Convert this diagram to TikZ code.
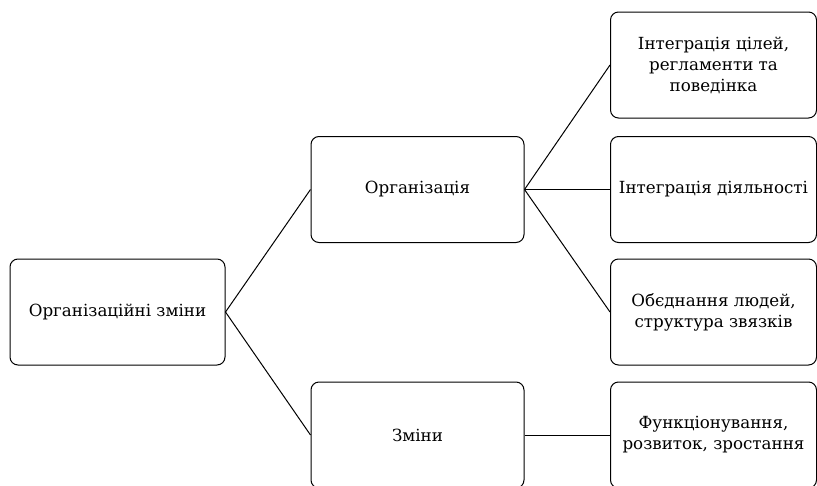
\documentclass[tikz,border=0pt]{standalone}
\usepackage{fontspec}
\setmainfont{DejaVu Serif}
\begin{document}
\begin{tikzpicture}[x=1pt,y=-1pt,
    box/.style={draw, rounded corners=8pt, line width=1pt,
      minimum width=213pt, minimum height=106pt, inner sep=0pt,
      align=center, font=\fontsize{16.7}{21}\selectfont}]
      \useasboundingbox (0,0) rectangle (817,485);
      \draw
        (117.5,312) node[box,minimum width=215pt] (root){Організаційні зміни}
        (417.5,189.5) node[box] (org){Організація}
        (417.5,435) node[box] (chg){Зміни}
        (713.5,65) node[box,minimum width=206pt] (goals){Інтеграція цілей,\\регламенти та\\поведінка}
        (713.5,189.5) node[box,minimum width=206pt] (act){Інтеграція діяльності}
        (713.5,312) node[box,minimum width=206pt] (people){Обєднання людей,\\структура звязків}
        (713.5,435) node[box,minimum width=206pt] (func){Функціонування,\\розвиток, зростання};
      \begin{scope}[line width=1pt]
        \draw (root.east) to (org.west);
        \draw (root.east) to (chg.west);
        \draw (org.east) to (goals.west);
        \draw (org.east) to (act.west);
        \draw (org.east) to (people.west);
        \draw (chg.east) to (func.west);
      \end{scope}
    \end{tikzpicture}
\end{document}
